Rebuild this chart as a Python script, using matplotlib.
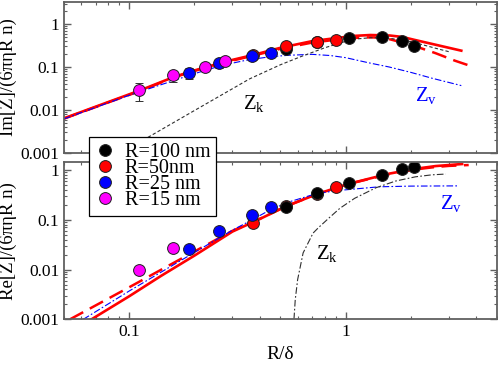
import numpy as np
import matplotlib
matplotlib.use('Agg')
import matplotlib.pyplot as plt
from matplotlib.ticker import FuncFormatter, NullFormatter, LogLocator

plt.rcParams['font.family'] = 'serif'
plt.rcParams['font.serif'] = ['Liberation Serif', 'DejaVu Serif']
plt.rcParams['mathtext.fontset'] = 'custom'
plt.rcParams['mathtext.rm'] = 'Liberation Serif'
plt.rcParams['mathtext.it'] = 'Liberation Serif:italic'

# ---- measured points (R/delta, Im, Re) ----
x_100 = [0.528, 0.74, 1.04, 1.47, 1.83, 2.07]
im_100 = [0.26, 0.39, 0.48, 0.50, 0.40, 0.30]
re_100 = [0.18, 0.345, 0.557, 0.79, 1.03, 1.13]

x_50 = [0.373, 0.528, 0.74, 0.90]
im_50 = [0.187, 0.31, 0.39, 0.42]
re_50 = [0.088, 0.19, 0.33, 0.45]

x_25 = [0.188, 0.261, 0.37, 0.452]
im_25 = [0.0725, 0.122, 0.18, 0.215]
im_25_err = [0.02, 0.025, 0.0, 0.0]
re_25 = [0.0256, 0.06, 0.126, 0.177]
re_25_err = [0.002, 0.004, 0.025, 0.0]

x_15 = [0.111, 0.159, 0.225, 0.276]
im_15 = [0.029, 0.064, 0.102, 0.138]
im_15_err = [0.013, 0.018, 0.006, 0.008]
re_15 = [0.0100, 0.0265, np.nan, np.nan]
re_15_err = [0.0012, 0.002, 0.0, 0.0]

# ---- theory curves, upper panel (Im) ----
im_full_x = [0.05, 0.08, 0.113, 0.16, 0.2, 0.28, 0.373, 0.5, 0.7, 0.9, 1.1, 1.3, 1.6, 1.83, 2.07, 2.6, 3.42]
im_full_y = [0.0064, 0.0153, 0.029, 0.058, 0.083, 0.135, 0.19, 0.28, 0.40, 0.47, 0.53, 0.555, 0.54, 0.50, 0.43, 0.33, 0.24]
im_dash_x = [0.05, 0.08, 0.113, 0.16, 0.2, 0.28, 0.373, 0.5, 0.7, 0.9, 1.1, 1.3, 1.5, 1.83, 2.2, 2.6, 3.2, 3.9]
im_dash_y = [0.0063, 0.015, 0.028, 0.057, 0.081, 0.13, 0.183, 0.265, 0.37, 0.43, 0.475, 0.49, 0.48, 0.37, 0.28, 0.21, 0.14, 0.10]
im_v_x = [0.05, 0.1, 0.2, 0.27, 0.35, 0.45, 0.55, 0.7, 0.85, 1.0, 1.28, 1.59, 2.0, 2.5, 3.42]
im_v_y = [0.0062, 0.022, 0.07, 0.11, 0.145, 0.174, 0.188, 0.197, 0.185, 0.165, 0.125, 0.10, 0.075, 0.055, 0.037]
im_k_x = [0.09, 0.12, 0.2, 0.36, 0.5, 0.62, 0.8, 1.07, 1.3, 1.54, 2.0, 2.7, 3.0]
im_k_y = [0.00093, 0.0022, 0.0097, 0.053, 0.113, 0.174, 0.28, 0.44, 0.48, 0.48, 0.39, 0.26, 0.227]

# ---- theory curves, lower panel (Re) ----
re_full_x = [0.067, 0.1, 0.14, 0.2, 0.3, 0.4, 0.528, 0.74, 0.92, 1.04, 1.3, 1.6, 2.07, 2.6, 3.45]
re_full_y = [0.001, 0.0029, 0.0074, 0.019, 0.058, 0.103, 0.185, 0.33, 0.45, 0.53, 0.68, 0.85, 1.05, 1.2, 1.32]
re_dash_x = [0.0533, 0.07, 0.1, 0.15, 0.2, 0.3, 0.4, 0.528, 0.74, 1.04, 1.3, 1.6, 2.07, 2.6, 3.0, 3.7]
re_dash_y = [0.001, 0.0019, 0.0044, 0.0116, 0.023, 0.06, 0.104, 0.185, 0.33, 0.53, 0.67, 0.83, 1.02, 1.15, 1.21, 1.26]
re_v_x = [0.0614, 0.1, 0.15, 0.2, 0.3, 0.37, 0.45, 0.55, 0.74, 0.94, 1.2, 1.43, 2.0, 3.3]
re_v_y = [0.001, 0.0037, 0.0105, 0.022, 0.062, 0.1, 0.16, 0.23, 0.34, 0.39, 0.43, 0.46, 0.475, 0.48]
re_k_x = [0.577, 0.585, 0.6, 0.636, 0.707, 0.75, 0.84, 0.94, 1.1, 1.38, 1.7, 2.1, 2.5, 2.9]
re_k_y = [0.001, 0.0025, 0.0063, 0.0216, 0.054, 0.07, 0.11, 0.17, 0.27, 0.44, 0.6, 0.73, 0.8, 0.83]

fig = plt.figure(figsize=(4.98, 3.65), dpi=100)
ax1 = fig.add_axes([0.1285, 0.5808, 0.8695, 0.4137])
ax2 = fig.add_axes([0.1285, 0.1252, 0.8695, 0.4310])

red = '#ff0000'
blue = '#0000ff'
mk = dict(marker='o', ms=8.5, mec='#202020', mew=0.7, ls='none')
eb = dict(ecolor='#303030', elinewidth=0.8, capsize=3, capthick=0.8)

# upper panel
ax1.plot(im_full_x, im_full_y, color=red, lw=1.9)
ax1.plot(im_dash_x, im_dash_y, color=red, lw=1.8, ls=(0, (6, 3)))
ax1.plot(im_v_x, im_v_y, color=blue, lw=0.8, ls=(0, (6, 2, 1.5, 2)))
ax1.plot(im_k_x, im_k_y, color='#303030', lw=0.8, ls=(0, (3, 2)))
ax1.plot(x_100, im_100, mfc='black', **mk)
ax1.plot(x_50, im_50, mfc=red, **mk)
ax1.errorbar(x_25, im_25, yerr=im_25_err, mfc=blue, **mk, **eb)
ax1.errorbar(x_15, im_15, yerr=im_15_err, mfc='#ff00ff', **mk, **eb)
ax1.text(0.337, 0.0248, r'Z$_{\mathrm{k}}$', fontsize=15, color='black', va='top')
ax1.text(2.09, 0.038, r'Z$_{\mathrm{v}}$', fontsize=15, color=blue, va='top')

# lower panel
ax2.plot(re_full_x, re_full_y, color=red, lw=1.9)
ax2.plot(re_dash_x, re_dash_y, color=red, lw=1.8, ls=(0, (6, 3)))
ax2.plot(re_v_x, re_v_y, color=blue, lw=0.8, ls=(0, (6, 2, 1.5, 2)))
ax2.plot(re_k_x, re_k_y, color='#303030', lw=0.8, ls=(0, (6, 2, 1.5, 2)))
ax2.plot(x_50, re_50, mfc=red, **mk)
ax2.plot(x_100, re_100, mfc='black', **mk)
ax2.errorbar(x_25, re_25, yerr=re_25_err, mfc=blue, **mk, **eb)
ax2.errorbar(x_15, re_15, yerr=re_15_err, mfc='#ff00ff', **mk, **eb)
ax2.text(0.728, 0.0342, r'Z$_{\mathrm{k}}$', fontsize=15, color='black', va='top')
ax2.text(2.72, 0.341, r'Z$_{\mathrm{v}}$', fontsize=15, color=blue, va='top')

fmt = FuncFormatter(lambda v, p: '%g' % v)
for ax, ylim in ((ax1, (0.001, 3.25)), (ax2, (0.001, 1.45))):
    ax.set_xscale('log')
    ax.set_yscale('log')
    ax.set_xlim(0.05, 5)
    ax.set_ylim(*ylim)
    ax.yaxis.set_major_locator(LogLocator(base=10, numticks=10))
    ax.yaxis.set_major_formatter(fmt)
    ax.yaxis.set_minor_formatter(NullFormatter())
    ax.xaxis.set_major_formatter(fmt)
    ax.xaxis.set_minor_formatter(NullFormatter())
    ax.tick_params(which='both', direction='in', top=True, right=True,
                   color='#606060', labelsize=12.5)
    ax.tick_params(which='major', length=5, width=1)
    ax.tick_params(which='minor', length=2.5, width=0.8)
    for s in ax.spines.values():
        s.set_color('#606060')
        s.set_linewidth(1.3)

ax1.tick_params(labelbottom=False)
ax1.set_ylabel('Im[Z]/(6πηR n)', fontsize=13.5, labelpad=2)
ax2.set_ylabel('Re[Z]/(6πηR n)', fontsize=13.5, labelpad=2)
ax2.set_xlabel('R/δ', fontsize=14, labelpad=4)

# legend sitting across both panels
hnd = [plt.Line2D([], [], mfc=c, **mk) for c in ('black', red, blue, '#ff00ff')]
labels = ['R=100 nm', 'R=50nm', 'R=25 nm', 'R=15 nm']
leg = fig.legend(hnd, labels, loc='upper left', bbox_to_anchor=(89 / 498, 1 - 137 / 365),
                 fontsize=14.5, frameon=True, fancybox=False, framealpha=1,
                 edgecolor='black', borderpad=0.28, labelspacing=-0.15,
                 handlelength=1.0, handletextpad=0.5, borderaxespad=0)
leg.get_frame().set_linewidth(0.9)

fig.savefig('out.png', dpi=100)
